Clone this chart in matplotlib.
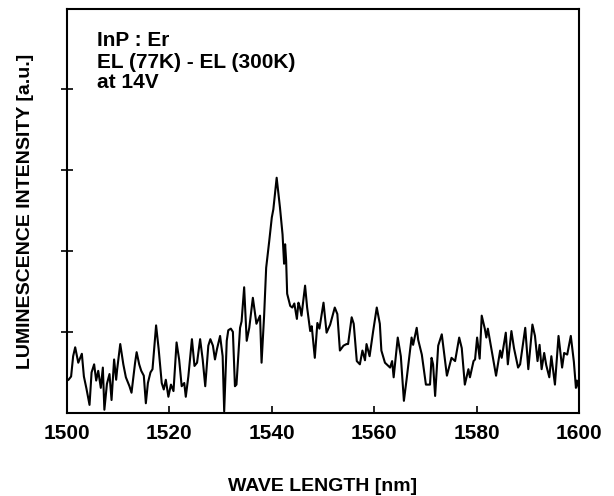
import matplotlib
matplotlib.use("Agg")
import matplotlib.pyplot as plt

plt.rcParams['font.family'] = ['Liberation Sans', 'DejaVu Sans']

wavelength = [
    1500.0, 1500.3, 1500.8, 1501.2, 1501.6, 1502.2, 1502.9, 1503.3, 1503.8, 1504.4,
    1504.8, 1505.3, 1505.7, 1506.1, 1506.6, 1507.0, 1507.3, 1507.8, 1508.3, 1508.7,
    1509.2, 1509.6, 1509.8, 1510.4, 1511.0, 1511.5, 1512.2, 1512.6, 1513.3, 1513.6,
    1514.1, 1514.5, 1515.0, 1515.4, 1515.8, 1516.3, 1516.7, 1517.4, 1517.9, 1518.5,
    1518.9, 1519.3, 1519.8, 1520.3, 1520.8, 1521.4, 1521.9, 1522.4, 1522.9, 1523.2,
    1523.7, 1524.4, 1524.9, 1525.4, 1526.0, 1526.5, 1527.0, 1527.6, 1528.0, 1528.5,
    1528.9, 1529.3, 1529.9, 1530.4, 1530.7, 1531.2, 1531.5, 1532.0, 1532.4, 1532.8,
    1533.1, 1533.8, 1534.1, 1534.6, 1535.1, 1535.6, 1536.3, 1537.0, 1537.7, 1538.0,
    1538.5, 1538.9, 1539.5, 1540.0, 1540.3, 1540.95, 1541.6, 1542.1, 1542.4, 1542.6,
    1542.8, 1543.0, 1543.6, 1544.0, 1544.4, 1544.9, 1545.2, 1545.5, 1545.8, 1546.5,
    1546.9, 1547.5, 1547.8, 1548.4, 1548.9, 1549.3, 1550.1, 1550.7, 1551.4, 1552.3,
    1552.8, 1553.3, 1554.0, 1554.6, 1554.9, 1555.6, 1556.0, 1556.6, 1557.2, 1557.7,
    1558.2, 1558.5, 1559.1, 1559.8, 1560.5, 1561.1, 1561.4, 1562.1, 1563.1, 1563.5,
    1563.8, 1564.6, 1565.2, 1565.8, 1566.3, 1567.3, 1567.6, 1568.3, 1568.6, 1569.3,
    1570.1, 1570.9, 1571.2, 1571.5, 1571.9, 1572.5, 1573.2, 1574.2, 1575.1, 1575.8,
    1576.6, 1577.1, 1577.7, 1578.4, 1578.7, 1579.4, 1579.7, 1580.1, 1580.6, 1581.0,
    1581.6, 1581.9, 1582.2, 1582.7, 1583.1, 1583.8, 1584.6, 1584.9, 1585.7, 1586.1,
    1586.8, 1587.3, 1588.1, 1588.5, 1589.5, 1590.1, 1590.9, 1591.4, 1591.9, 1592.3,
    1592.7, 1593.2, 1593.6, 1594.2, 1594.6, 1595.3, 1596.0, 1596.7, 1597.1, 1597.7,
    1598.4, 1599.0, 1599.4, 1599.6, 1600.0,
]

intensity = [
    0.40, 0.41, 0.45, 0.70, 0.81, 0.62, 0.73, 0.45, 0.30, 0.10,
    0.50, 0.60, 0.40, 0.52, 0.31, 0.56, 0.04, 0.36, 0.48, 0.16,
    0.66, 0.41, 0.54, 0.85, 0.60, 0.44, 0.33, 0.25, 0.62, 0.75,
    0.60, 0.52, 0.46, 0.12, 0.37, 0.50, 0.54, 1.08, 0.79, 0.37,
    0.29, 0.41, 0.20, 0.35, 0.27, 0.87, 0.66, 0.33, 0.37, 0.20,
    0.45, 0.91, 0.58, 0.62, 0.91, 0.66, 0.33, 0.83, 0.91, 0.83,
    0.66, 0.79, 0.95, 0.70, 0.02, 0.89, 1.02, 1.04, 1.00, 0.33,
    0.35, 1.05, 1.13, 1.55, 0.89, 1.05, 1.42, 1.10, 1.20, 0.62,
    1.20, 1.79, 2.12, 2.41, 2.51, 2.90, 2.53, 2.20, 1.84, 2.08,
    1.88, 1.47, 1.32, 1.30, 1.35, 1.16, 1.36, 1.30, 1.20, 1.57,
    1.30, 1.01, 1.07, 0.68, 1.11, 1.04, 1.36, 0.99, 1.09, 1.30,
    1.22, 0.77, 0.83, 0.85, 0.85, 1.18, 1.10, 0.64, 0.60, 0.77,
    0.65, 0.85, 0.70, 1.01, 1.30, 1.10, 0.77, 0.62, 0.56, 0.64,
    0.44, 0.93, 0.70, 0.15, 0.40, 0.93, 0.84, 1.05, 0.90, 0.72,
    0.35, 0.35, 0.68, 0.60, 0.21, 0.83, 0.97, 0.46, 0.68, 0.64,
    0.93, 0.80, 0.35, 0.54, 0.44, 0.64, 0.66, 0.93, 0.67, 1.20,
    1.04, 0.93, 1.04, 0.86, 0.72, 0.46, 0.77, 0.68, 0.99, 0.60,
    1.01, 0.80, 0.56, 0.60, 1.05, 0.54, 1.09, 0.95, 0.64, 0.84,
    0.54, 0.74, 0.59, 0.44, 0.70, 0.35, 0.95, 0.56, 0.74, 0.72,
    0.95, 0.63, 0.31, 0.40, 0.30,
]

x_ticks = [1500, 1520, 1540, 1560, 1580, 1600]
y_ticks = [1, 2, 3, 4]
annotation_lines = ["InP : Er", "EL (77K) - EL (300K)", "at 14V"]
x_label = "WAVE LENGTH [nm]"
y_label = "LUMINESCENCE INTENSITY [a.u.]"

fig = plt.figure(figsize=(6.14, 4.96), dpi=100)
ax = fig.add_axes([67/614, 1 - 413/496, (579-67)/614, (413-9)/496])

ax.plot(wavelength, intensity, color='black', lw=1.5)

ax.set_xlim(1500, 1600)
ax.set_ylim(0, 4.98)
ax.set_xticks(x_ticks)
ax.set_xticklabels([str(t) for t in x_ticks], fontsize=15, fontweight='bold')
ax.set_yticks(y_ticks)
ax.set_yticklabels([])
ax.tick_params(axis='x', direction='in', length=5, width=1.2, pad=8)
ax.tick_params(axis='y', direction='inout', length=8, width=1.2)
for s in ax.spines.values():
    s.set_linewidth(1.5)

ax.set_xlabel(x_label, fontsize=14, fontweight='bold', labelpad=25)
ax.set_ylabel(y_label, fontsize=14, fontweight='bold', labelpad=16)

y_px = [40, 62, 83]
for line, yp in zip(annotation_lines, y_px):
    ax.text(97/614, 1 - yp/496, line, transform=fig.transFigure,
            fontsize=15, fontweight='bold', va='center', ha='left')

fig.savefig('out.png', dpi=100, facecolor='white')
